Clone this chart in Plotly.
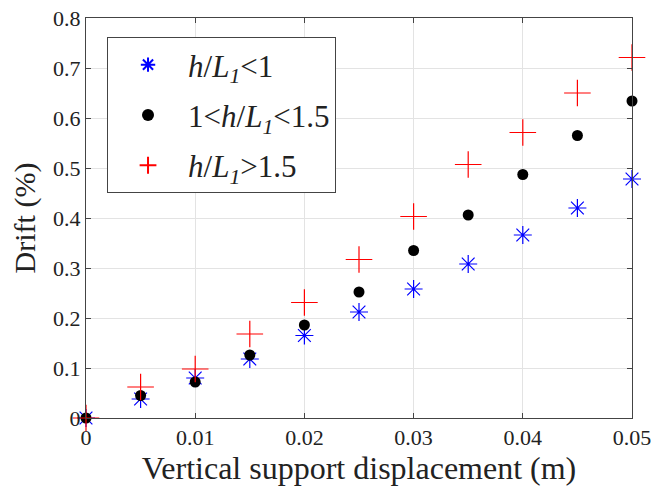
import plotly.graph_objects as go

x_disp = [0, 0.005, 0.01, 0.015, 0.02, 0.025, 0.03, 0.035, 0.04, 0.045, 0.05]
drift_low = [0, 0.038, 0.080, 0.118, 0.165, 0.212, 0.258, 0.308, 0.366, 0.420, 0.478]
drift_mid = [0, 0.045, 0.072, 0.126, 0.186, 0.252, 0.335, 0.406, 0.487, 0.565, 0.634]
drift_high = [0, 0.062, 0.098, 0.168, 0.231, 0.317, 0.403, 0.507, 0.571, 0.650, 0.721]

x_ticks = [0, 0.01, 0.02, 0.03, 0.04, 0.05]
x_ticktext = ["0", "0.01", "0.02", "0.03", "0.04", "0.05"]
y_ticks = [0, 0.1, 0.2, 0.3, 0.4, 0.5, 0.6, 0.7, 0.8]
y_ticktext = ["0", "0.1", "0.2", "0.3", "0.4", "0.5", "0.6", "0.7", "0.8"]

names = ["<i>h</i>/<i>L</i><sub><i>1</i></sub><1",
         "1<<i>h</i>/<i>L</i><sub><i>1</i></sub><1.5",
         "<i>h</i>/<i>L</i><sub><i>1</i></sub>>1.5"]

fig = go.Figure()
fig.add_trace(go.Scatter(x=x_disp, y=drift_low, mode="markers", name=names[0], cliponaxis=False,
                         legendgroup="a",
                         marker=dict(symbol="asterisk-open", size=15, color="#0000ff",
                                     line=dict(color="#0000ff", width=1.2))))
fig.add_trace(go.Scatter(x=x_disp, y=drift_mid, mode="markers", name=names[1], cliponaxis=False,
                         legendgroup="b",
                         marker=dict(symbol="circle", size=11, color="black")))
fig.add_trace(go.Scatter(x=x_disp, y=drift_high, mode="markers", name=names[2], cliponaxis=False,
                         legendgroup="c",
                         marker=dict(symbol="cross-thin-open", size=19, color="#ff0000",
                                     line=dict(color="#ff0000", width=1.2))))

font_family = "Liberation Serif"
axis_common = dict(showline=True, linecolor="#444444", linewidth=1, mirror="ticks",
                   ticks="inside", ticklen=5, tickcolor="#444444", automargin=False,
                   showgrid=True, gridcolor="#e3e3e3", gridwidth=1, zeroline=False,
                   tickfont=dict(family=font_family, size=22, color="#222222"))

fig.update_layout(
    width=652, height=488,
    margin=dict(l=86, r=20, t=18, b=70),
    plot_bgcolor="white", paper_bgcolor="white",
    font=dict(family=font_family, color="#222222"),
    xaxis=dict(range=[0, 0.05], tickvals=x_ticks, ticktext=x_ticktext,
               title=dict(text="Vertical support displacement (m)",
                          font=dict(family=font_family, size=32, color="#222222"), standoff=4),
               **axis_common),
    yaxis=dict(range=[0, 0.8], tickvals=y_ticks, ticktext=y_ticktext,
               title=dict(text="Drift (%)",
                          font=dict(family=font_family, size=30, color="#222222"), standoff=8),
               **axis_common),
    legend=dict(x=0.0385, y=0.9525, xanchor="left", yanchor="top",
                bgcolor="white", bordercolor="#444444", borderwidth=1,
                font=dict(family=font_family, size=31, color="#222222"),
                itemsizing="constant", itemwidth=70,
                traceorder="grouped", tracegroupgap=7),
    showlegend=True,
)

fig.write_html("out.html", config={"displayModeBar": False},
               post_script="document.body.style.margin='0';")
